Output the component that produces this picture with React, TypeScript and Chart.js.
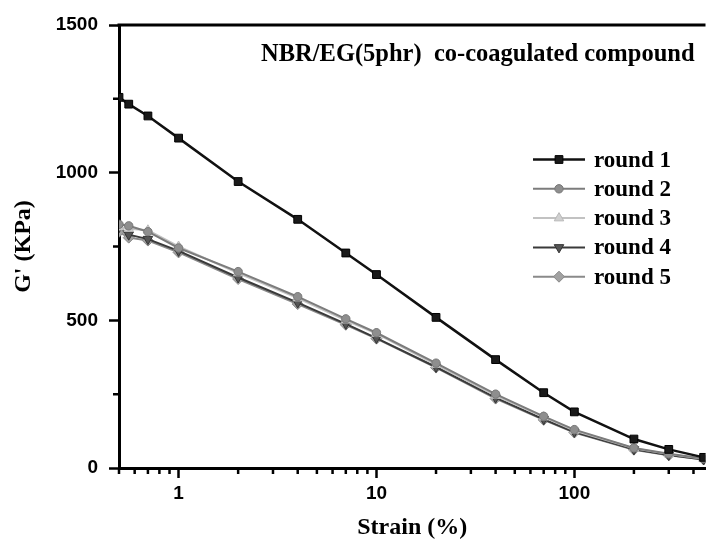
import React, { useEffect, useRef } from 'react';
import { Chart, registerables } from 'chart.js';
import { drawPoint } from 'chart.js/helpers';

Chart.register(...registerables);

// ---- data ----
const strain = [0.5, 0.56, 0.7, 1, 2, 4, 7, 10, 20, 40, 70, 100, 200, 300, 450];
const round1 = [1255, 1232, 1192, 1117, 970, 842, 728, 655, 510, 367, 255, 190, 98, 63, 36];
const round2 = [825, 820, 800, 745, 665, 580, 505, 458, 355, 250, 175, 130, 68, 48, 32];
const round3 = [815, 810, 805, 750, 660, 575, 500, 455, 350, 245, 172, 127, 67, 47, 31];
const round4 = [815, 790, 775, 735, 645, 560, 488, 440, 342, 238, 165, 122, 63, 44, 29];
const round5 = [800, 780, 770, 730, 640, 555, 485, 438, 340, 235, 163, 120, 62, 43, 29];
const seriesNames = ['round 1', 'round 2', 'round 3', 'round 4', 'round 5'];

const xMajorTicks = [1, 10, 100];
const xMinorTicks = [0.5, 0.6, 0.7, 0.8, 0.9, 2, 3, 4, 5, 6, 7, 8, 9, 20, 30, 40, 50, 60, 70, 80, 90, 200, 300, 400];
const yMajorTicks = [0, 500, 1000, 1500];
const yMinorTicks = [250, 750, 1250];

const annotation = 'NBR/EG(5phr)  co-coagulated compound';
const xTitle = 'Strain (%)';
const yTitle = "G' (KPa)";

const SANS = '"Liberation Sans", Arial, sans-serif';
const SERIF = '"Liberation Serif", "Times New Roman", serif';

const styles = [
  { line: '#111111', fill: '#1a1a1a', border: '#000000', pointStyle: 'rect', radius: 5.5, rotation: 0, width: 2.5 },
  { line: '#7c7c7c', fill: '#8e8e8e', border: '#777777', pointStyle: 'circle', radius: 4.2, rotation: 0, width: 2 },
  { line: '#c2c2c2', fill: '#d0d0d0', border: '#b8b8b8', pointStyle: 'triangle', radius: 5.5, rotation: 0, width: 2 },
  { line: '#3a3a3a', fill: '#555555', border: '#333333', pointStyle: 'triangle', radius: 5.5, rotation: 180, width: 2 },
  { line: '#8a8a8a', fill: '#a2a2a2', border: '#888888', pointStyle: 'rectRot', radius: 5.5, rotation: 0, width: 2 },
];

const seriesValues = [round1, round2, round3, round4, round5];

const decorPlugin = {
  id: 'decor',
  afterDraw(chart: any) {
    const { ctx, chartArea } = chart;
    const xs = chart.scales.x;
    const ys = chart.scales.y;
    ctx.save();
    // top frame line
    ctx.strokeStyle = '#000';
    ctx.lineWidth = 3;
    ctx.beginPath();
    ctx.moveTo(chartArea.left - 1.5, chartArea.top);
    ctx.lineTo(chartArea.right, chartArea.top);
    ctx.stroke();
    // minor ticks
    ctx.lineWidth = 2.5;
    ctx.beginPath();
    xMinorTicks.forEach((v) => {
      const px = xs.getPixelForValue(v);
      if (px < chartArea.left - 0.5 || px > chartArea.right) return;
      ctx.moveTo(px, chartArea.bottom);
      ctx.lineTo(px, chartArea.bottom + 6);
    });
    yMinorTicks.forEach((v) => {
      const py = ys.getPixelForValue(v);
      ctx.moveTo(chartArea.left, py);
      ctx.lineTo(chartArea.left - 6, py);
    });
    ctx.stroke();
    // annotation
    ctx.fillStyle = '#000';
    ctx.font = `bold 24.5px ${SERIF}`;
    ctx.textAlign = 'left';
    ctx.textBaseline = 'alphabetic';
    ctx.fillText(annotation, 261, 61);
    // legend
    const lx0 = 533, lx1 = 585, tx = 594, y0 = 159.5, dy = 29.3;
    chart.data.datasets.forEach((ds: any, i: number) => {
      const s = styles[i];
      const y = y0 + i * dy;
      ctx.strokeStyle = s.line;
      ctx.lineWidth = s.width;
      ctx.beginPath();
      ctx.moveTo(lx0, y);
      ctx.lineTo(lx1, y);
      ctx.stroke();
      ctx.fillStyle = s.fill;
      ctx.strokeStyle = s.border;
      ctx.lineWidth = 1;
      drawPoint(ctx, { pointStyle: s.pointStyle, radius: s.radius, rotation: s.rotation, borderWidth: 1 } as any, (lx0 + lx1) / 2, y);
      ctx.fillStyle = '#000';
      ctx.font = `bold 23px ${SERIF}`;
      ctx.textBaseline = 'alphabetic';
      ctx.fillText(ds.label, tx, y + 7);
    });
    ctx.restore();
  },
};

export default function App() {
  const ref = useRef<HTMLCanvasElement | null>(null);
  useEffect(() => {
    if (!ref.current) return;
    const datasets = seriesValues.map((vals, i) => {
      const s = styles[i];
      return {
        label: seriesNames[i],
        data: strain.map((x, j) => ({ x, y: vals[j] })),
        borderColor: s.line,
        borderWidth: s.width,
        backgroundColor: s.fill,
        pointBackgroundColor: s.fill,
        pointBorderColor: s.border,
        pointBorderWidth: 1,
        pointStyle: s.pointStyle,
        pointRotation: s.rotation,
        pointRadius: s.radius,
        tension: 0,
        fill: false,
        clip: 0,
      };
    });
    const chart = new Chart(ref.current, {
      type: 'line',
      data: { datasets } as any,
      options: {
        animation: false,
        responsive: false,
        layout: { padding: { left: 0, right: 0, top: 25, bottom: 0 } },
        plugins: { legend: { display: false }, tooltip: { enabled: false }, title: { display: false } },
        scales: {
          x: {
            type: 'logarithmic',
            min: 0.5,
            max: 460,
            afterBuildTicks: (scale: any) => {
              scale.ticks = xMajorTicks.map((v) => ({ value: v }));
            },
            afterFit: (scale: any) => {
              scale.height = 72;
            },
            ticks: {
              autoSkip: false,
              maxRotation: 0,
              padding: 4,
              color: '#000',
              font: { family: SANS, weight: 'bold', size: 19 },
              callback: (v: any) => String(v),
            },
            grid: { display: true, drawOnChartArea: false, drawTicks: true, tickLength: 10, tickColor: '#000', tickWidth: 2.5 },
            border: { display: true, color: '#000', width: 3 },
            title: {
              display: true,
              text: xTitle,
              color: '#000',
              font: { family: SERIF, weight: 'bold', size: 24, lineHeight: 1 },
              padding: { top: 0, bottom: 0 },
            },
          },
          y: {
            type: 'linear',
            min: 0,
            max: 1500,
            afterBuildTicks: (scale: any) => {
              scale.ticks = yMajorTicks.map((v) => ({ value: v }));
            },
            afterFit: (scale: any) => {
              scale.width = 119;
            },
            ticks: {
              padding: 11,
              color: '#000',
              font: { family: SANS, weight: 'bold', size: 19 },
              callback: (v: any) => String(v),
            },
            grid: { display: true, drawOnChartArea: false, drawTicks: true, tickLength: 10, tickColor: '#000', tickWidth: 2.5 },
            border: { display: true, color: '#000', width: 3 },
            title: {
              display: true,
              text: yTitle,
              color: '#000',
              font: { family: SERIF, weight: 'bold', size: 24, lineHeight: 1 },
              padding: { top: 12, bottom: 0 },
            },
          },
        },
      } as any,
      plugins: [decorPlugin],
    });
    return () => chart.destroy();
  }, []);
  return (
    <div style={{ position: 'absolute', left: 0, top: 0, width: 712, height: 540, background: '#fff' }}>
      <canvas ref={ref} width={712} height={540} style={{ display: 'block' }} />
    </div>
  );
}
